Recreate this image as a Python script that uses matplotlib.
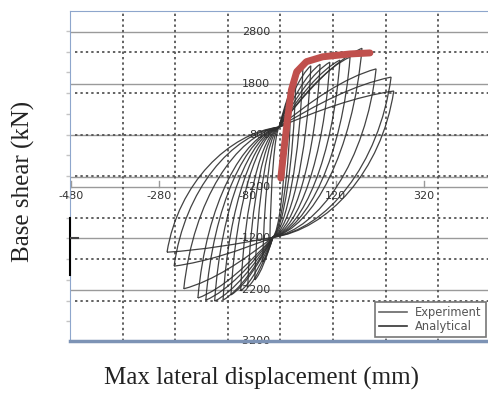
import numpy as np
import matplotlib.pyplot as plt
from matplotlib.path import Path
from matplotlib.patches import PathPatch
from matplotlib.lines import Line2D

# experiment cycles: peak points (mm, kN)
pos_disp = [8, 19, 30, 46, 64, 85, 107, 130, 153, 180, 212, 246, 252]
pos_force = [1000, 1490, 1870, 2110, 2150, 2180, 2220, 2260, 2320, 2490, 2090, 1930, 1660]
neg_disp = [-29, -45, -63, -79, -95, -117, -135, -154, -174, -192, -224, -246, -262]
neg_force = [-1330, -1660, -2010, -2150, -2220, -2300, -2400, -2420, -2400, -2360, -2180, -1740, -1470]
# pinching points where the branches meet
pinch_up = [-8, 960]
pinch_low = [-22, -1180]

# analytical backbone (red)
ana_disp = [-4, 3, 11, 20, 32, 54, 91, 153, 198]
ana_force = [-30, 515, 1100, 1680, 2035, 2230, 2325, 2380, 2400]

x_ticks = [-480, -280, -80, 120, 320]
y_ticks = [2800, 1800, 800, -200, -1200, -2200, -3200]


def loop_path(nd, nf, pd, pf):
    A = np.array([nd, nf], float)
    C = np.array(pinch_up, float)
    D = np.array([pd, pf], float)
    F = np.array(pinch_low, float)
    verts = [A]
    d = C - A
    verts += [A + [0.1 * d[0], 0.55 * d[1]], C - [0.45 * d[0], 0.05 * d[1]], C]
    d = D - C
    verts += [C + [0.33 * d[0], 0.45 * d[1]], C + [0.67 * d[0], 0.85 * d[1]], D]
    d = F - D
    verts += [D + [0.1 * d[0], 0.55 * d[1]], F - [0.45 * d[0], 0.05 * d[1]], F]
    d = A - F
    verts += [F + [0.33 * d[0], 0.45 * d[1]], F + [0.67 * d[0], 0.85 * d[1]], A]
    codes = [Path.MOVETO] + [Path.CURVE4] * 12
    return Path(verts, codes)


fig = plt.figure(figsize=(4.89, 3.94), dpi=100)
ax = fig.add_axes([70 / 489, 1 - 341.3 / 394, 419 / 489, 330.6 / 394])
ax.set_xlim(-482, 468)
ax.set_ylim(-3200, 3220)

# frame
ax.spines["right"].set_visible(False)
ax.spines["left"].set_color("#8ea6cc")
ax.spines["top"].set_color("#8ea6cc")
ax.spines["bottom"].set_color("#7d93b5")
ax.spines["bottom"].set_linewidth(2.5)
ax.set_xticks([])
ax.set_yticks(np.arange(-7, 8) * 402.9 + 6)
ax.set_yticklabels([])
ax.tick_params(axis="y", length=3, color="#c4c4c4", width=1)

# solid grid of the labelled axes
for v in y_ticks[:-1] + [0]:
    ax.axhline(v, color="#9a9a9a", lw=1.0, zorder=1)
# dotted grid of the test plot
for gx in np.arange(-3, 4) * 119.3 - 5:
    ax.axvline(gx, color="#555555", lw=1.3, ls=(0, (1.3, 1.7)), zorder=1)
for gy in np.arange(-3, 4) * 805.8 + 6:
    ax.axhline(gy, xmin=0.012, color="#555555", lw=1.3, ls=(0, (1.3, 1.7)), zorder=1)

# small ticks on the x axis line
for v in x_ticks:
    ax.plot([v, v], [-200, -90], color="#9a9a9a", lw=1, zorder=1)
    ax.text(v, -380, str(v), ha="center", va="center", fontsize=8,
            color="#333333", zorder=2, clip_on=False)
for v in y_ticks:
    ax.text(-28, v, str(v), ha="right", va="center", fontsize=8,
            color="#333333", zorder=2)

# stray marks on left edge
ax.plot([-482, -482], [-806, -1912], color="black", lw=1.5, clip_on=False, zorder=3)
ax.plot([-482, -464], [-1200, -1200], color="#444444", lw=1.5, zorder=3)

# experiment loops
for nd, nf, pd, pf in zip(neg_disp, neg_force, pos_disp, pos_force):
    ax.add_patch(PathPatch(loop_path(nd, nf, pd, pf), fill=False,
                           edgecolor="#2e2e2e", lw=0.9, alpha=0.9, zorder=4))

# analytical curve
ax.plot(ana_disp, ana_force, color="#c0504d", lw=5, solid_capstyle="round",
        solid_joinstyle="round", zorder=5)

handles = [Line2D([], [], color="#666666", lw=1.2),
           Line2D([], [], color="#333333", lw=1.2)]
leg = ax.legend(handles, ["Experiment", "Analytical"], loc="lower right",
                bbox_to_anchor=(0.992, 0.012), fontsize=8.3, frameon=True,
                fancybox=False, edgecolor="#777777", framealpha=1,
                borderpad=0.35, handlelength=2.4, labelspacing=0.12,
                handletextpad=0.7, borderaxespad=0)
leg.get_frame().set_linewidth(1.2)
for t in leg.get_texts():
    t.set_color("#555555")

fig.text(262 / 489, 1 - 378 / 394, "Max lateral displacement (mm)", ha="center",
         va="center", fontsize=18, family="Liberation Serif", color="#222222")
fig.text(23 / 489, 1 - 181.5 / 394, "Base shear (kN)", ha="center", va="center",
         rotation=90, fontsize=18, family="Liberation Serif", color="#222222")

fig.savefig("out.png", dpi=100)
